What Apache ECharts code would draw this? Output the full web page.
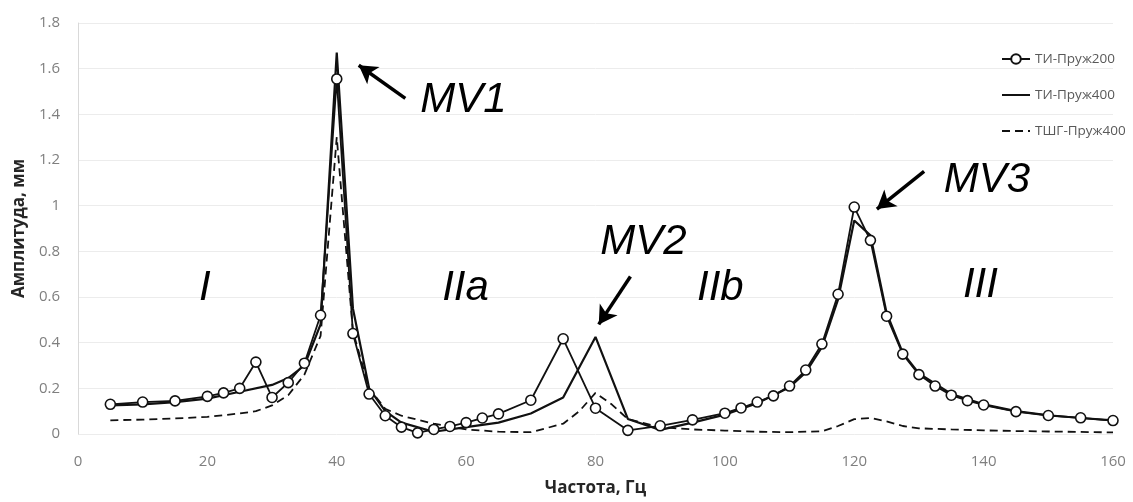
<!DOCTYPE html>
<html>
<head>
<meta charset="utf-8">
<script src="https://cdn.jsdelivr.net/npm/echarts@6/dist/echarts.min.js"></script>
<style>
  html, body { margin: 0; padding: 0; background: #fff; }
  #chart { width: 1133px; height: 502px; }
</style>
</head>
<body>
<div id="chart"></div>
<script>
// ТИ-Пруж200 (circles)
const freq200 = [5, 10, 15, 20, 22.5, 25, 27.5, 30, 32.5, 35, 37.5, 40, 42.5, 45, 47.5, 50, 52.5, 55, 57.5, 60, 62.5, 65, 70, 75, 80, 85, 90, 95, 100, 102.5, 105, 107.5, 110, 112.5, 115, 117.5, 120, 122.5, 125, 127.5, 130, 132.5, 135, 137.5, 140, 145, 150, 155, 160]
const amp200 = [0.13, 0.14, 0.145, 0.165, 0.18, 0.2, 0.315, 0.16, 0.225, 0.31, 0.52, 1.555, 0.44, 0.175, 0.08, 0.03, 0.005, 0.02, 0.033, 0.05, 0.07, 0.088, 0.148, 0.417, 0.113, 0.016, 0.036, 0.062, 0.091, 0.114, 0.14, 0.167, 0.21, 0.28, 0.394, 0.612, 0.994, 0.848, 0.516, 0.35, 0.26, 0.21, 0.17, 0.146, 0.127, 0.098, 0.081, 0.071, 0.059]

// ТИ-Пруж400 (solid)
const freq400 = [5, 10, 15, 20, 25, 30, 32.5, 35, 37.5, 40, 42.5, 45, 47.5, 50, 55, 60, 65, 70, 75, 80, 85, 90, 95, 100, 105, 110, 112.5, 115, 117.5, 120, 122.5, 125, 127.5, 130, 135, 140, 145, 150, 155, 160]
const amp400 = [0.125, 0.13, 0.14, 0.155, 0.185, 0.215, 0.245, 0.3, 0.48, 1.67, 0.55, 0.2, 0.1, 0.05, 0.01, 0.03, 0.05, 0.09, 0.16, 0.425, 0.066, 0.018, 0.05, 0.085, 0.135, 0.205, 0.27, 0.38, 0.59, 0.935, 0.87, 0.53, 0.355, 0.265, 0.175, 0.13, 0.1, 0.082, 0.07, 0.06]

// ТШГ-Пруж400 (dashed)
const freqTshg = [5, 10, 15, 20, 25, 27.5, 30, 32.5, 35, 37.5, 40, 42.5, 45, 47.5, 50, 55, 60, 65, 70, 75, 77.5, 80, 82.5, 85, 90, 95, 100, 105, 110, 115, 117.5, 120, 122.5, 125, 127.5, 130, 135, 140, 145, 150, 155, 160]
const ampTshg = [0.06, 0.063, 0.068, 0.075, 0.09, 0.1, 0.125, 0.17, 0.26, 0.43, 1.3, 0.45, 0.2, 0.11, 0.08, 0.045, 0.02, 0.01, 0.008, 0.045, 0.1, 0.18, 0.13, 0.065, 0.03, 0.02, 0.015, 0.01, 0.008, 0.012, 0.035, 0.065, 0.07, 0.055, 0.035, 0.025, 0.02, 0.016, 0.013, 0.011, 0.009, 0.007]

const seriesNames = ['ТИ-Пруж200', 'ТИ-Пруж400', 'ТШГ-Пруж400']

// подписи зон и мод (частота, амплитуда)
const notes = [
  ['I', 19.6, 0.64], ['IIa', 59.9, 0.64], ['IIb', 99.3, 0.64], ['III', 139.5, 0.65],
  ['MV1', 59.6, 1.46], ['MV2', 87.4, 0.84], ['MV3', 140.5, 1.11]
]
// стрелки: [от, до]
const arrows = [
  [[50.6, 1.47], [43.4, 1.615]],
  [[85.4, 0.69], [80.5, 0.48]],
  [[130.8, 1.15], [123.5, 0.985]]
]

function zip (xs, ys) {
  return xs.map((x, i) => [x, ys[i]])
}

const tickFont = { fontFamily: 'Open Sans', fontSize: 15, color: '#7f7f7f' }
const nameFont = { fontFamily: 'Open Sans', fontSize: 17, fontWeight: 'bold', color: '#262626' }

const option = {
  animation: false,
  grid: { left: 78, right: 20, top: 23, bottom: 65 },
  legend: {
    data: [
      { name: seriesNames[0] },
      { name: seriesNames[1], itemStyle: { opacity: 0 } },
      { name: seriesNames[2], itemStyle: { opacity: 0 } }
    ],
    orient: 'vertical',
    left: 996,
    top: 47,
    itemWidth: 28,
    itemHeight: 12,
    itemGap: 22,
    textStyle: { fontFamily: 'Open Sans', fontSize: 13.5, color: '#595959' }
  },
  xAxis: {
    type: 'value',
    min: 0,
    max: 160,
    interval: 20,
    name: 'Частота, Гц',
    nameLocation: 'middle',
    nameGap: 46,
    nameTextStyle: nameFont,
    axisLine: { show: false },
    axisTick: { show: false },
    axisLabel: Object.assign({ margin: 20 }, tickFont),
    splitLine: { show: false }
  },
  yAxis: {
    type: 'value',
    min: 0,
    max: 1.8,
    interval: 0.2,
    name: 'Амплитуда, мм',
    nameLocation: 'middle',
    nameGap: 49,
    nameTextStyle: nameFont,
    axisLine: { show: true, lineStyle: { color: '#d9d9d9', width: 1 } },
    axisTick: { show: false },
    axisLabel: Object.assign({ margin: 18, formatter: v => String(Math.round(v * 10) / 10) }, tickFont),
    splitLine: { show: true, lineStyle: { color: '#ececec', width: 1 } }
  },
  series: [
    {
      name: seriesNames[0],
      type: 'line',
      data: zip(freq200, amp200),
      symbol: 'circle',
      symbolSize: 10,
      itemStyle: { color: '#fff', borderColor: '#111', borderWidth: 1.6 },
      lineStyle: { color: '#111', width: 1.8 },
      z: 4
    },
    {
      name: seriesNames[1],
      type: 'line',
      data: zip(freq400, amp400),
      symbol: 'none',
      itemStyle: { color: '#111' },
      lineStyle: { color: '#111', width: 2.2 },
      z: 3
    },
    {
      name: seriesNames[2],
      type: 'line',
      data: zip(freqTshg, ampTshg),
      symbol: 'none',
      itemStyle: { color: '#111' },
      lineStyle: { color: '#111', width: 1.8, type: [8, 5] },
      z: 2
    },
    {
      name: 'notes',
      type: 'scatter',
      data: notes.map(n => ({ value: [n[1], n[2]], name: n[0] })),
      symbolSize: 0,
      silent: true,
      itemStyle: { opacity: 1 },
      label: {
        show: true,
        position: 'inside',
        formatter: p => p.name,
        fontFamily: 'Liberation Sans',
        fontStyle: 'italic',
        fontSize: 42,
        color: '#000',
        opacity: 1,
        textBorderWidth: 0
      },
      markLine: {
        silent: true,
        symbol: ['none', 'arrow'],
        symbolSize: [16, 18],
        label: { show: false },
        lineStyle: { color: '#000', width: 3.5, type: 'solid' },
        data: arrows.map(a => [{ coord: a[0] }, { coord: a[1] }])
      },
      z: 5
    }
  ]
}

const chart = echarts.init(document.getElementById('chart'))
chart.setOption(option)
</script>
</body>
</html>
